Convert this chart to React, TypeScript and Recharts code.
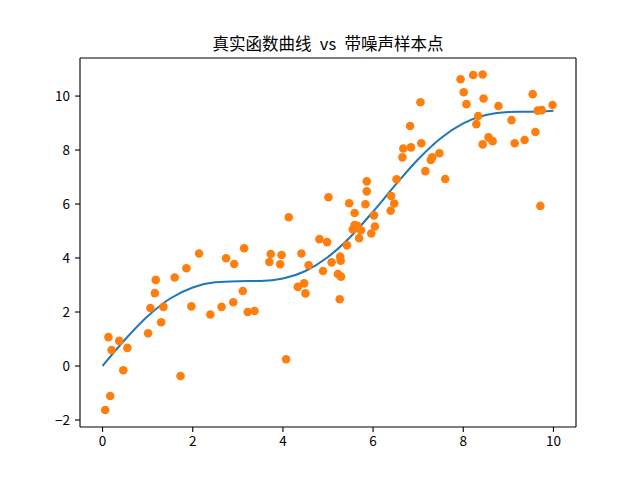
import React from "react";
import { ComposedChart, Line, Scatter, XAxis, YAxis, ReferenceLine } from "recharts";

const titleText = "真实函数曲线\u2002vs\u2002带噪声样本点";

const curveX = [0, 0.5, 1, 1.5, 2, 2.5, 3, 3.5, 4, 4.5, 5, 5.5, 6, 6.5, 7, 7.5, 8, 8.5, 9, 9.5, 10];
const curveY = [0, 0.98, 1.84, 2.5, 2.91, 3.1, 3.14, 3.15, 3.24, 3.52, 4.04, 4.79, 5.72, 6.72, 7.66, 8.44, 8.99, 9.3, 9.41, 9.42, 9.46];

const sampleX = [
  0.06, 0.17, 0.46, 0.13, 0.2, 0.37, 0.55, 1.01, 1.3, 1.06,
  1.35, 1.16, 1.18, 1.6, 1.86, 1.97, 1.73, 2.14, 2.39, 2.64,
  2.9, 3.11, 3.22, 3.37, 2.74, 2.92, 3.14, 3.73, 3.7, 3.97,
  3.94, 4.13, 4.07, 4.41, 4.33, 4.5, 4.47, 4.57, 5.01, 4.81,
  4.98, 4.89, 5.08, 5.27, 5.28, 5.22, 5.29, 5.26, 5.42, 5.47,
  5.59, 5.55, 5.65, 5.73, 5.59, 5.69, 5.96, 5.83, 5.86, 5.86,
  6.02, 6.04, 6.4, 6.39, 6.47, 6.52, 6.65, 6.67, 6.84, 7.07,
  6.82, 7.05, 7.16, 7.28, 7.31, 7.47, 7.6, 7.94, 8.01, 8.07,
  8.22, 8.43, 8.45, 8.33, 8.29, 8.43, 8.56, 8.65, 8.78, 9.07,
  9.14, 9.36, 9.54, 9.6, 9.65, 9.74, 9.98, 9.71,
];
const sampleY = [
  -1.63, -1.11, -0.16, 1.07, 0.59, 0.93, 0.67, 1.21, 1.62, 2.15,
  2.19, 2.7, 3.19, 3.28, 3.62, 2.21, -0.37, 4.17, 1.91, 2.19,
  2.36, 2.78, 2.0, 2.04, 3.99, 3.78, 4.36, 4.15, 3.85, 4.11,
  3.77, 5.51, 0.25, 4.17, 2.93, 2.69, 3.06, 3.73, 6.25, 4.7,
  4.59, 3.52, 3.84, 4.05, 3.9, 3.41, 3.31, 2.47, 4.47, 6.03,
  5.67, 5.06, 5.19, 5.03, 5.22, 4.73, 4.91, 5.99, 6.47, 6.84,
  5.58, 5.17, 6.3, 5.75, 6.02, 6.92, 7.73, 8.06, 8.1, 8.25,
  8.89, 9.77, 7.22, 7.63, 7.73, 7.88, 6.93, 10.62, 10.14, 9.7,
  10.78, 10.8, 9.91, 9.26, 8.96, 8.21, 8.47, 8.33, 9.63, 9.11,
  8.25, 8.37, 10.07, 8.67, 9.46, 9.48, 9.67, 5.93,
];

const xTicks = [0, 2, 4, 6, 8, 10];
const yTicks = [-2, 0, 2, 4, 6, 8, 10];
const xDomain: [number, number] = [-0.5, 10.5];
const yDomain: [number, number] = [-2.26, 11.41];

const curveData = curveX.map((x, i) => ({ x, y: curveY[i] }));
const sampleData = sampleX.map((x, i) => ({ x, y: sampleY[i] }));

const tickStyle = { fill: "#000", fontSize: 13.5, fontFamily: "'Noto Sans CJK SC', 'DejaVu Sans', sans-serif" };

const Dot = (props: any) => {
  const { cx, cy } = props;
  if (cx == null || cy == null) return null;
  return <circle cx={cx} cy={cy} r={4.3} fill="#ff7f0e" />;
};

export default function App() {
  return (
    <div style={{ position: "absolute", left: 0, top: 0, width: 640, height: 480, background: "#fff" }}>
      <ComposedChart width={640} height={480} margin={{ top: 58, right: 64, bottom: 0, left: 0 }}>
        <XAxis
          dataKey="x"
          type="number"
          domain={xDomain}
          allowDataOverflow
          ticks={xTicks}
          height={53}
          tick={tickStyle}
          tickSize={5}
          tickMargin={4}
          stroke="#000"
          axisLine={{ stroke: "#000", strokeWidth: 1.1 }}
          tickLine={{ stroke: "#000", strokeWidth: 1.1 }}
        />
        <YAxis
          type="number"
          domain={yDomain}
          allowDataOverflow
          ticks={yTicks}
          width={80}
          tick={tickStyle}
          tickSize={5}
          tickMargin={5}
          stroke="#000"
          axisLine={{ stroke: "#000", strokeWidth: 1.1 }}
          tickLine={{ stroke: "#000", strokeWidth: 1.1 }}
          tickFormatter={(v: number) => (v < 0 ? "\u2212" + Math.abs(v) : String(v))}
        />
        <ReferenceLine y={yDomain[1]} stroke="#000" strokeWidth={1.1} ifOverflow="extendDomain" />
        <ReferenceLine x={xDomain[1]} stroke="#000" strokeWidth={1.1} ifOverflow="extendDomain" />
        <Line
          data={curveData}
          dataKey="y"
          type="monotone"
          stroke="#1f77b4"
          strokeWidth={2}
          dot={false}
          activeDot={false}
          isAnimationActive={false}
        />
        <Scatter data={sampleData} dataKey="y" shape={<Dot />} isAnimationActive={false} />
        <text
          x={328}
          y={50}
          textAnchor="middle"
          fontSize={16.5}
          fill="#000"
          fontFamily="'Noto Sans CJK SC', sans-serif"
        >
          {titleText}
        </text>
      </ComposedChart>
    </div>
  );
}
